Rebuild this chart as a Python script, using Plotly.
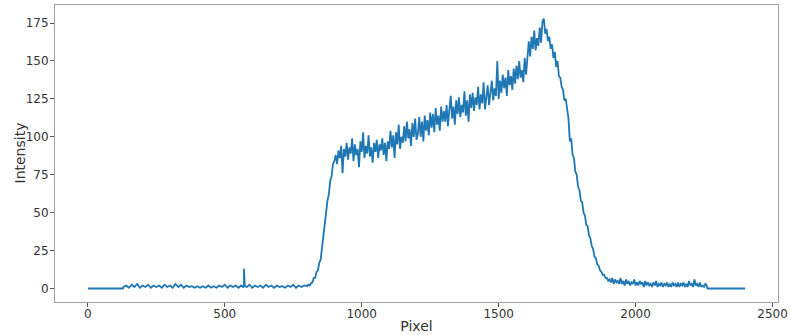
import plotly.graph_objects as go

# ---- data ----
lead_pixels = [0, 128]
lead_intensity = [0, 0]

baseline_pixels = list(range(130, 800, 10))
baseline_intensity = [1, 2, 0.5, 2.5, 1, 3, 0.5, 2, 1, 2.5,
                      0.5, 2, 1, 2, 0.5, 2.5, 1, 2, 0.5, 3,
                      1, 2.5, 0.5, 2, 1, 1.5, 0.5, 1.5, 0.5, 1.5,
                      0.5, 2, 0.5, 1.5, 0.5, 2, 1, 2.5, 0.5, 2,
                      1, 2, 0.5, 2, 1.5, 1, 2.5, 0.5, 2, 1,
                      2, 0.5, 2.5, 1, 2, 0.5, 2, 1, 1.5, 0.5,
                      2, 1, 2.5, 0.5, 2, 1, 2]
spike_pixels = [567, 570, 573]
spike_intensity = [1, 13, 1.5]

main_pixels = list(range(800, 1725, 5))
main_intensity = [
    # rise 800-900
    1.5, 2.5, 2, 3.5, 4, 7, 7, 11, 12, 17, 19, 27, 31, 43, 48, 58, 62, 71, 74, 82, 84,
    # plateau 905-1100
    88, 82, 91, 86, 94, 76, 92, 87, 96, 85,
    93, 89, 99, 84, 95, 88, 92, 80, 97, 90,
    103, 86, 94, 89, 101, 87, 93, 83, 96, 90,
    98, 86, 95, 91, 99, 88, 96, 84, 97, 92,
    # slope 1105-1600
    104, 93, 101, 86, 103, 95, 108, 92, 100, 96,
    107, 97, 110, 99, 105, 94, 109, 100, 112, 98,
    102, 113, 100, 110, 97, 114, 104, 111, 101, 116,
    106, 115, 103, 119, 108, 114, 104, 120, 110, 117,
    110, 121, 107, 118, 127, 112, 120, 108, 124, 115,
    126, 113, 121, 116, 130, 114, 124, 110, 128, 119,
    129, 117, 126, 121, 133, 118, 128, 122, 136, 118,
    125, 134, 121, 130, 137, 124, 132, 127, 150, 125,
    137, 129, 141, 132, 139, 127, 144, 134, 140, 131,
    145, 135, 147, 138, 150, 139, 144, 136, 152, 141,
    # top 1605-1720
    156, 163, 153, 166, 158, 170, 157, 165, 160, 172, 162, 176,
    178, 168, 171, 163, 166, 158, 161, 152, 156, 146, 150, 140,
]

tail_pixels = list(range(1725, 2265, 5))
tail_intensity = [
    # drop 1725-1900
    139, 133, 131, 124, 125, 116, 112, 97, 99, 88, 86, 77, 75, 67, 65, 58, 57, 50, 48, 42,
    41, 35, 33, 28, 26, 21, 20, 16, 15, 12, 11, 9, 9, 7, 7, 5,
    # low noise 1905-2260
    6, 4, 7, 3, 6, 4, 5, 3, 7, 3, 5, 2, 6, 3, 5, 2, 4, 3, 6, 2,
    4, 2, 5, 3, 4, 1, 5, 2, 4, 2, 3, 1, 4, 2, 5, 1, 3, 2, 4, 1,
    3, 2, 4, 1, 3, 1, 4, 2, 3, 1, 4, 1, 3, 2, 4, 1, 3, 1, 5, 2,
    3, 1, 6, 2, 3, 1, 4, 1, 2, 1, 3, 2,
]

end_pixels = [2262, 2400]
end_intensity = [0, 0]

# ---- assemble ----
pairs = sorted(zip(baseline_pixels + spike_pixels, baseline_intensity + spike_intensity))
pixels = lead_pixels + [p for p, _ in pairs] + main_pixels + tail_pixels + end_pixels
intensity = lead_intensity + [v for _, v in pairs] + main_intensity + tail_intensity + end_intensity

fig = go.Figure(go.Scatter(x=pixels, y=intensity, mode="lines",
                           line=dict(color="#1f77b4", width=1.8), showlegend=False))

axis_common = dict(showgrid=False, zeroline=False, showline=True, linecolor="#a0a0a0",
                   linewidth=1, mirror=True, ticks="outside", ticklen=4, tickcolor="#555",
                   automargin=False,
                   tickfont=dict(family="DejaVu Sans", size=12, color="#333"))

fig.update_xaxes(range=[-120, 2520], tickvals=[0, 500, 1000, 1500, 2000, 2500],
                 ticklabelstandoff=-3,
                 title=dict(text="Pixel", font=dict(family="DejaVu Sans", size=14, color="#333"),
                            standoff=0), **axis_common)
fig.update_yaxes(range=[-8.9, 186.9], tickvals=[0, 25, 50, 75, 100, 125, 150, 175],
                 ticklabelstandoff=-1, **axis_common)

fig.add_annotation(text="Intensity", xref="paper", yref="paper", x=-36 / 723, y=0.5,
                   xanchor="center", yanchor="middle", textangle=-90, showarrow=False,
                   font=dict(family="DejaVu Sans", size=14, color="#333"))

fig.update_layout(width=791, height=335, margin=dict(l=55, r=13, t=5, b=33),
                  plot_bgcolor="white", paper_bgcolor="white")

fig.write_html("out.html", config={"displayModeBar": False},
               post_script="document.body.style.margin='0';")
